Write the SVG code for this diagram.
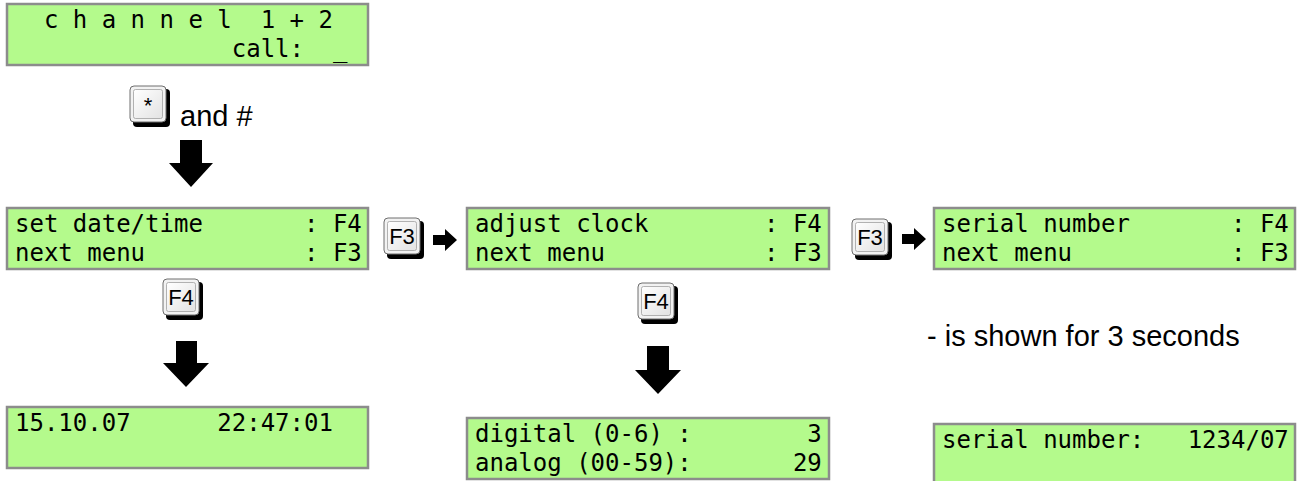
<svg xmlns="http://www.w3.org/2000/svg" width="1300" height="481" viewBox="0 0 1300 481">
<style>
.lcd{fill:#b4fa8c;stroke:#8c8c8c;stroke-width:2.5}
.mono{font-family:"DejaVu Sans Mono",monospace;font-size:24px;fill:#000;white-space:pre}
.lbl{font-family:"Liberation Sans",Arial,sans-serif;fill:#000}
.keytxt{font-family:"Liberation Sans",Arial,sans-serif;font-size:22px;fill:#000;text-anchor:middle}
.arr{fill:#000}
</style>
<defs>
<linearGradient id="kg" x1="0" y1="0" x2="1" y2="1">
<stop offset="0" stop-color="#ffffff"/>
<stop offset="1" stop-color="#e2e2e2"/>
</linearGradient>
<g id="key">
<rect x="3" y="3" width="37" height="38" rx="4" fill="#000"/>
<rect x="0" y="0" width="36" height="36" rx="4" fill="#f2f2f2" stroke="#6e6e6e" stroke-width="1"/>
<rect x="3.5" y="3.5" width="29" height="29" rx="2" fill="url(#kg)" stroke="#a0a0a0" stroke-width="0.8"/>
</g>
</defs>

<g id="lcd-channel">
<rect class="lcd" x="7" y="4" width="361" height="61"/>
<text class="mono" x="15" y="28" xml:space="preserve">  c h a n n e l  1 + 2</text>
<text class="mono" x="15" y="57" xml:space="preserve">               call:  _</text>
</g>

<g id="key-star">
<use href="#key" x="130" y="86"/>
<text class="keytxt" x="148" y="113" style="font-size:22px">*</text>
</g>
<g id="label-and-hash">
<text class="lbl" x="180" y="126" style="font-size:29px">and #</text>
</g>

<g id="lcd-setdate">
<rect class="lcd" x="7" y="208" width="361" height="61"/>
<text class="mono" x="15" y="232" xml:space="preserve">set date/time       : F4</text>
<text class="mono" x="15" y="261" xml:space="preserve">next menu           : F3</text>
</g>

<g id="key-f4-a">
<use href="#key" x="163" y="279"/>
<text class="keytxt" x="181" y="305">F4</text>
</g>

<g id="lcd-datetime">
<rect class="lcd" x="7" y="407" width="361" height="61"/>
<text class="mono" x="15" y="431" xml:space="preserve">15.10.07      22:47:01</text>
</g>

<g id="key-f3-a">
<use href="#key" x="384" y="218"/>
<text class="keytxt" x="402" y="244">F3</text>
</g>

<g id="lcd-adjust">
<rect class="lcd" x="467" y="208" width="362" height="61"/>
<text class="mono" x="475" y="232" xml:space="preserve">adjust clock        : F4</text>
<text class="mono" x="475" y="261" xml:space="preserve">next menu           : F3</text>
</g>

<g id="key-f4-b">
<use href="#key" x="638" y="283"/>
<text class="keytxt" x="656" y="309">F4</text>
</g>

<g id="lcd-clock">
<rect class="lcd" x="467" y="418" width="362" height="61"/>
<text class="mono" x="475" y="442" xml:space="preserve">digital (0-6) :        3</text>
<text class="mono" x="475" y="471" xml:space="preserve">analog (00-59):       29</text>
</g>

<g id="key-f3-b">
<use href="#key" x="852" y="219"/>
<text class="keytxt" x="870" y="245">F3</text>
</g>

<g id="lcd-serial">
<rect class="lcd" x="934" y="208" width="361" height="61"/>
<text class="mono" x="942" y="232" xml:space="preserve">serial number       : F4</text>
<text class="mono" x="942" y="261" xml:space="preserve">next menu           : F3</text>
</g>

<g id="label-shown">
<text class="lbl" x="927" y="346" style="font-size:29px">- is shown for 3 seconds</text>
</g>

<g id="lcd-serialno">
<rect class="lcd" x="934" y="424" width="361" height="62"/>
<text class="mono" x="942" y="448" xml:space="preserve">serial number:   1234/07</text>
</g>

<g id="connectors">
<path class="arr" d="M180,140 h22 v23 h11 l-22,24 l-22,-24 h11 z"/>
<path class="arr" d="M176,341 h21 v22 h12 l-23,24 l-23,-24 h13 z"/>
<path class="arr" d="M647,346 h22 v24 h12 l-23,24 l-23,-24 h12 z"/>
<path class="arr" d="M433,235 h12 v-6 l12,11 l-12,11 v-6 h-12 z"/>
<path class="arr" d="M902,234 h12 v-6 l12,11 l-12,11 v-6 h-12 z"/>
</g>
</svg>
